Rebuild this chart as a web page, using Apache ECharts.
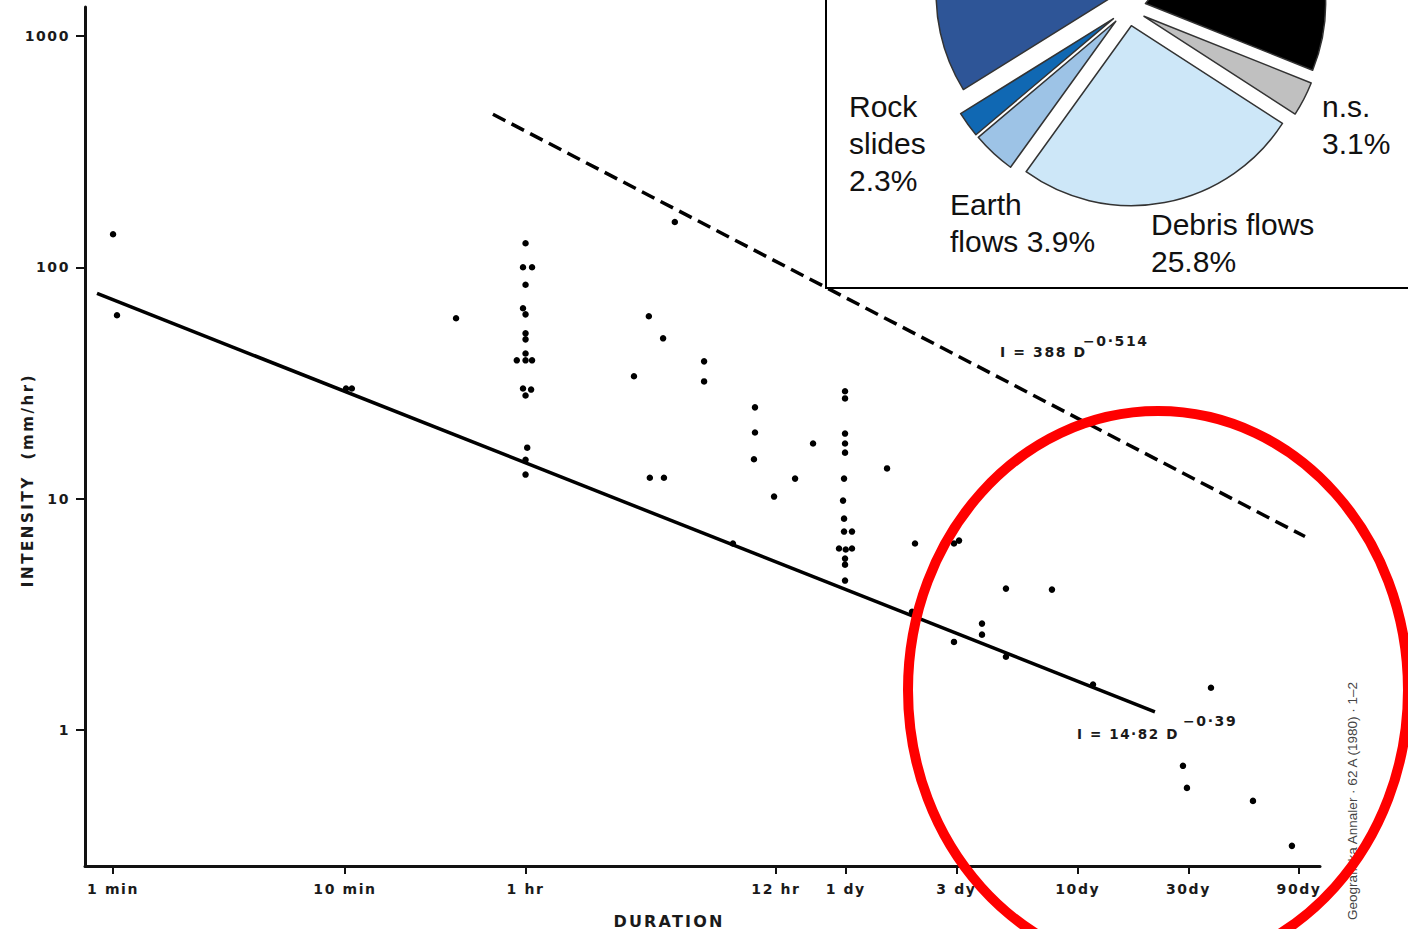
<!DOCTYPE html>
<html><head><meta charset="utf-8">
<script src="https://cdn.jsdelivr.net/npm/echarts@6/dist/echarts.min.js"></script>
<style>
html,body{margin:0;padding:0;background:#fff}
#c{width:1408px;height:929px}
#c text[style*="DejaVu"]{letter-spacing:1.6px}
#c text[style*="15px"]{letter-spacing:2.6px}
#c text[style*="16px"]{letter-spacing:2.2px}
</style>
</head><body><div id="c"></div>
<script>
// ---- Data (duration in minutes, intensity in mm/hr) ----
const durationMin = [
  1, 1.04, 10.1, 10.7, 30.1,
  60, 58.5, 64, 60, 58.5, 60, 60, 60, 60, 55, 60, 64, 58.5, 63.4, 60, 61, 60, 60,
  264, 204, 235, 353, 176, 353, 206, 237,
  585, 585, 579, 1041, 871, 707, 470,
  1430, 1430, 1430, 1430, 1430, 1416, 1402, 1416, 1416, 1532, 1347, 1440, 1532, 1430, 1430, 1430,
  2170, 2864, 4217, 4433, 7063, 11150, 5568, 5568, 4217, 2780, 7063, 16760,
  54050, 40930, 42580, 82000, 120700
];
const intensity = [
  139, 62, 29.9, 29.9, 60.2,
  127, 100, 100, 84, 66.5, 62.6, 51.8, 48.8, 42.4, 39.6, 39.6, 39.6, 29.9, 29.6, 27.9, 16.6, 14.7, 12.7,
  157, 61.4, 49.3, 39.2, 33.8, 32.1, 12.3, 12.3,
  24.8, 19.3, 14.8, 17.3, 12.2, 10.2, 6.39,
  29.1, 27.1, 19.1, 17.3, 15.8, 12.2, 9.8, 8.19, 7.2, 7.2, 6.08, 6.02, 6.08, 5.5, 5.18, 4.42,
  13.5, 6.39, 6.39, 6.58, 4.08, 4.04, 2.88, 2.58, 2.40, 3.24, 2.07, 1.57,
  1.52, 0.699, 0.561, 0.493, 0.315
];
const xTickValues = [1, 10, 60, 720, 1440, 4320, 14400, 43200, 129600];
const xTickLabels = ['1 min', '10 min', '1 hr', '12 hr', '1 dy', '3 dy', '10dy', '30dy', '90dy'];
const yTickValues = [1, 10, 100, 1000];
const yTickLabels = ['1', '10', '100', '1000'];
// fitted lines (end points)
const lowerFitDuration = [0.853, 30990];
const lowerFitIntensity = [77.1, 1.197];
const upperFitDuration = [43.4, 137400];
const upperFitIntensity = [459, 6.85];
const lowerFitMain = 'I = 14·82 D';
const lowerFitExp = '−0·39';
const upperFitMain = 'I = 388 D';
const upperFitExp = '−0·514';
// inset pie (top part of the pie is cut off in the figure)
const pieNames = ['Debris flows', 'Earth flows', 'Rock slides', 'blue (cut off)', 'black (cut off)', 'n.s.'];
const pieValues = [25.8, 3.9, 2.3, 44.9, 20.0, 3.1];
const pieColors = ['#CDE7F8', '#9DC3E6', '#1068B3', '#2E5597', '#000000', '#C0C0C0'];
const pieLabelText = ['Debris flows\n25.8%', 'Earth\nflows 3.9%', 'Rock\nslides\n2.3%', '', '', 'n.s.\n3.1%'];
const sourceNote = 'Geografiska Annaler · 62 A (1980) · 1–2';

// ---- Chart ----
const chart = echarts.init(document.getElementById('c'), null, {renderer: 'svg', width: 1408, height: 929});
const F = '"DejaVu Sans", sans-serif';
const lab = (vals, labels) => v => {
  const i = vals.findIndex(t => Math.abs(Math.log10(t) - Math.log10(v)) < 1e-6);
  return i >= 0 ? labels[i] : '';
};
const pts = durationMin.map((d, i) => [d, intensity[i]]);
const pieLabelPos = [[1151, 206], [950, 186], [849, 88], null, null, [1322, 88]];

const graphic = [
  {type: 'rect', z: 10, shape: {x: 826, y: -5, width: 600, height: 293},
   style: {fill: '#fff', stroke: '#000', lineWidth: 2}},
  {type: 'text', z: 10, x: 28, y: 480, rotation: Math.PI / 2,
   style: {text: 'INTENSITY  (mm/hr)', font: 'bold 15px ' + F, fill: '#1a1a1a', align: 'center', verticalAlign: 'middle'}},
  {type: 'text', z: 10, x: 669, y: 921,
   style: {text: 'DURATION', font: 'bold 16px ' + F, fill: '#1a1a1a', align: 'center', verticalAlign: 'middle'}},
  {type: 'text', z: 10, x: 1000, y: 352,
   style: {text: upperFitMain, font: 'bold 14px ' + F, fill: '#1a1a1a', align: 'left', verticalAlign: 'middle'}},
  {type: 'text', z: 10, x: 1083, y: 341,
   style: {text: upperFitExp, font: 'bold 14px ' + F, fill: '#1a1a1a', align: 'left', verticalAlign: 'middle'}},
  {type: 'text', z: 10, x: 1077, y: 734,
   style: {text: lowerFitMain, font: 'bold 13.5px ' + F, fill: '#1a1a1a', align: 'left', verticalAlign: 'middle'}},
  {type: 'text', z: 10, x: 1183, y: 721,
   style: {text: lowerFitExp, font: 'bold 14px ' + F, fill: '#1a1a1a', align: 'left', verticalAlign: 'middle'}},
  {type: 'text', z: 10, x: 1352, y: 801, rotation: Math.PI / 2,
   style: {text: sourceNote, font: '13.5px "Liberation Sans", Arial, sans-serif', fill: '#444', align: 'center', verticalAlign: 'middle'}},
  {type: 'ellipse', z: 40, shape: {cx: 1158, cy: 690, rx: 250, ry: 279},
   style: {fill: 'none', stroke: '#ff0000', lineWidth: 10}}
];
pieLabelText.forEach((t, i) => {
  if (!t) return;
  graphic.push({type: 'text', z: 30, x: pieLabelPos[i][0], y: pieLabelPos[i][1],
    style: {text: t, font: '30px "Liberation Sans", Arial, sans-serif', lineHeight: 37, fill: '#111', align: 'left', verticalAlign: 'top'}});
});

const option = {
  animation: false,
  backgroundColor: '#fff',
  grid: {left: 85, right: 88, top: 7, bottom: 63},
  xAxis: {
    type: 'log', logBase: 10, min: 0.757, max: 159500,
    axisLine: {show: true, onZero: false, lineStyle: {color: '#111', width: 3}},
    axisTick: {show: true, customValues: xTickValues, length: 8, lineStyle: {color: '#111', width: 2}},
    axisLabel: {customValues: xTickValues, formatter: lab(xTickValues, xTickLabels), margin: 16,
      color: '#1a1a1a', fontFamily: F, fontWeight: 'bold', fontSize: 14},
    splitLine: {show: false}, minorTick: {show: false}
  },
  yAxis: {
    type: 'log', logBase: 10, min: 0.2578, max: 1335,
    axisLine: {show: true, onZero: false, lineStyle: {color: '#111', width: 3}},
    axisTick: {show: true, customValues: yTickValues, length: 9, lineStyle: {color: '#111', width: 2}},
    axisLabel: {customValues: yTickValues, formatter: lab(yTickValues, yTickLabels), margin: 15,
      color: '#1a1a1a', fontFamily: F, fontWeight: 'bold', fontSize: 14},
    splitLine: {show: false}, minorTick: {show: false}
  },
  series: [
    {type: 'scatter', data: pts, symbol: 'circle', symbolSize: 6.5, itemStyle: {color: '#000', opacity: 1}, z: 5,
     emphasis: {disabled: true}},
    {type: 'line', data: lowerFitDuration.map((d, i) => [d, lowerFitIntensity[i]]), showSymbol: false, symbol: 'none',
     lineStyle: {color: '#000', width: 3.5}, z: 4, emphasis: {disabled: true}},
    {type: 'line', data: upperFitDuration.map((d, i) => [d, upperFitIntensity[i]]), showSymbol: false, symbol: 'none',
     lineStyle: {color: '#000', width: 3.5, type: [14, 7]}, z: 4, emphasis: {disabled: true}},
    {type: 'pie', z: 20, center: [1128, 8], radius: 180, startAngle: -32.9, clockwise: true,
     selectedMode: 'multiple', selectedOffset: 18, avoidLabelOverlap: false,
     label: {show: false}, labelLine: {show: false}, emphasis: {disabled: true},
     itemStyle: {borderColor: '#333', borderWidth: 1.5},
     data: pieNames.map((n, i) => ({name: n, value: pieValues[i], selected: true, itemStyle: {color: pieColors[i]}}))}
  ],
  graphic: graphic
};
chart.setOption(option);
</script></body></html>
